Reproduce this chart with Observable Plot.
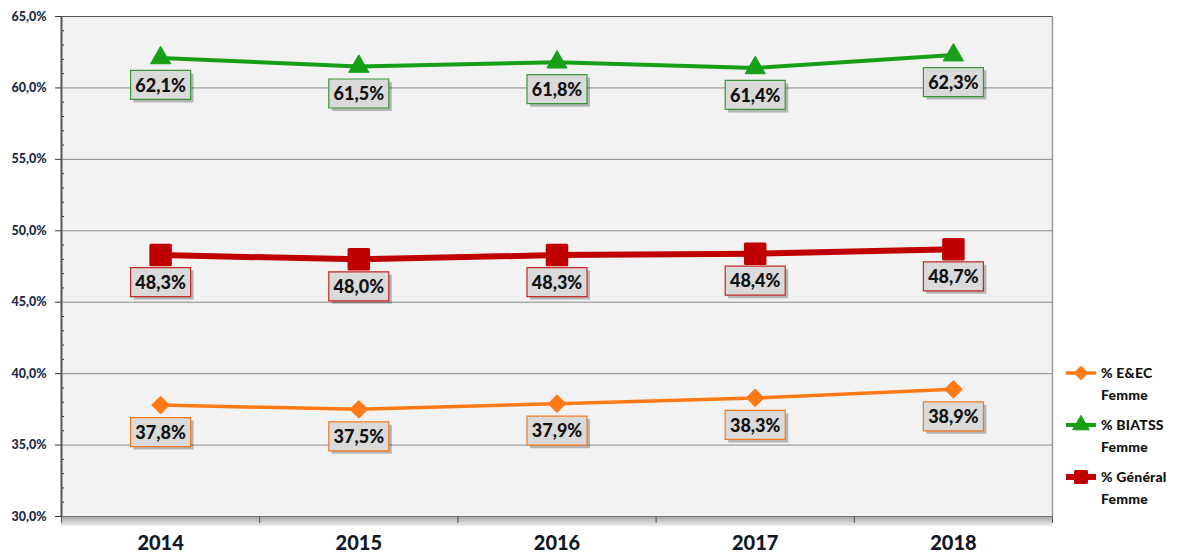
<!DOCTYPE html>
<html>
<head>
<meta charset="utf-8">
<script src="https://cdn.jsdelivr.net/npm/d3@7"></script>
<script src="https://cdn.jsdelivr.net/npm/@observablehq/plot@0.6"></script>
<style>
  html, body { margin: 0; padding: 0; background: #fff; }
  #wrap { position: relative; width: 1180px; height: 556px; font-family: Lato, "Open Sans", sans-serif; }
  #legend { position: absolute; left: 1064px; top: 362px; font-weight: 900; font-size: 14px; color: #111; letter-spacing: 0.2px; }
  .item { display: flex; align-items: flex-start; margin-bottom: 8px; }
  .item svg { flex: none; margin-right: 3px; }
  .item div { line-height: 22px; }
</style>
</head>
<body>
<div id="wrap"><div id="legend"></div></div>
<script>
const years = [2014, 2015, 2016, 2017, 2018];
const eec = [37.8, 37.5, 37.9, 38.3, 38.9];
const biatss = [62.1, 61.5, 61.8, 61.4, 62.3];
const general = [48.3, 48.0, 48.3, 48.4, 48.7];
const seriesNames = ["% E&EC Femme", "% BIATSS Femme", "% Général Femme"];
const yTicks = [30, 35, 40, 45, 50, 55, 60, 65];
const yMinor = d3.range(30, 66, 1).filter(d => d % 5 !== 0);
const xBounds = [2013.5, 2014.5, 2015.5, 2016.5, 2017.5, 2018.5];

const colors = { eec: "#ff7a14", biatss: "#17a017", general: "#c00000" };
const borders = { eec: "#f27a22", biatss: "#3c963c", general: "#c42828" };

const fmt = d => d.toFixed(1).replace(".", ",") + "%";

const rows = [];
years.forEach((y, i) => {
  rows.push({ year: y, value: eec[i], s: "eec" });
  rows.push({ year: y, value: biatss[i], s: "biatss" });
  rows.push({ year: y, value: general[i], s: "general" });
});
const sub = k => rows.filter(d => d.s === k);

const boxSymbol = { draw(ctx) { ctx.rect(-30, -14.5, 60, 29); } };

const seriesStyle = {
  eec: { symbol: "diamond2", r: 8, width: 3.5 },
  biatss: { symbol: "triangle", r: 7.5, width: 4 },
  general: { symbol: "square", r: 11, width: 6 }
};

const seriesMarks = [];
for (const k of ["eec", "general", "biatss"]) {
  const st = seriesStyle[k];
  seriesMarks.push(Plot.line(sub(k), { x: "year", y: "value", stroke: colors[k], strokeWidth: st.width }));
  seriesMarks.push(Plot.dot(sub(k), { x: "year", y: "value", symbol: st.symbol, r: st.r, fill: colors[k], stroke: colors[k], strokeWidth: k === "general" ? 3 : 1, strokeLinejoin: "round" }));
}
const labelMarks = [];
for (const k of ["eec", "general", "biatss"]) {
  labelMarks.push(Plot.dot(sub(k), { x: "year", y: "value", symbol: boxSymbol, dx: 3, dy: 30, fill: "#000", fillOpacity: 0.25, stroke: "none" }));
  labelMarks.push(Plot.dot(sub(k), { x: "year", y: "value", symbol: boxSymbol, dy: 27, fill: "#dadada", stroke: borders[k], strokeWidth: 1.2 }));
  labelMarks.push(Plot.text(sub(k), { x: "year", y: "value", text: d => fmt(d.value), dy: 28, fontSize: 18, fontWeight: 900, fill: "#111", fontFamily: "Lato" }));
}

const shadow = d3.range(1, 10).map(i => Plot.ruleY([30], { dy: i, stroke: "#000", strokeOpacity: 0.05 + 0.3 * (1 - i / 10) }));

const chart = Plot.plot({
  width: 1180,
  height: 556,
  marginLeft: 61,
  marginRight: 128,
  marginTop: 16,
  marginBottom: 40,
  style: { fontFamily: "Lato, sans-serif", background: "transparent" },
  x: { domain: [2013.5, 2018.5] },
  y: { domain: [30, 65] },
  marks: [
    Plot.frame({ fill: "#f2f2f2", stroke: "none" }),
    Plot.ruleY([35, 40, 45, 50, 55, 60], { stroke: "#8a8a8a" }),
    ...shadow,
    Plot.ruleY([65], { stroke: "#555" }),
    Plot.ruleX([2018.5], { stroke: "#9a9a9a", strokeWidth: 1.5 }),
    Plot.ruleY([30], { stroke: "#777" }),
    Plot.axisY({ ticks: yTicks, tickSize: 6, tickFormat: () => "", stroke: "#333", label: null }),
    Plot.axisY({ ticks: yMinor, tickSize: -3, tickFormat: () => "", stroke: "#333", label: null }),
    Plot.axisY({ ticks: yTicks, tickSize: 0, tickPadding: 15, tickFormat: fmt, fontSize: 12.5, fontWeight: 900, fill: "#1c2a48", label: null }),
    Plot.ruleX([2013.5], { stroke: "#555", strokeWidth: 2 }),
    Plot.axisX({ ticks: xBounds, tickSize: 7, tickFormat: () => "", stroke: "#555", label: null }),
    Plot.axisX({ ticks: years, tickSize: 0, tickPadding: 19, tickFormat: d => String(d), fontSize: 20, fontWeight: 900, fill: "#111827", label: null }),
    ...seriesMarks,
    ...labelMarks
  ]
});
document.getElementById("wrap").prepend(chart);

// legend
const legendKeys = ["eec", "biatss", "general"];
const legend = document.getElementById("legend");
legendKeys.forEach((k, i) => {
  const item = document.createElement("div");
  item.className = "item";
  const sw = d3.create("svg").attr("width", 34).attr("height", 22);
  const st = seriesStyle[k];
  sw.append("line").attr("x1", 2).attr("x2", 32).attr("y1", 11).attr("y2", 11)
    .attr("stroke", colors[k]).attr("stroke-width", st.width);
  const sym = { diamond2: d3.symbolDiamond2, triangle: d3.symbolTriangle, square: d3.symbolSquare }[st.symbol];
  const size = k === "general" ? 120 : 120;
  sw.append("path").attr("transform", "translate(17,11)").attr("d", d3.symbol(sym, size)())
    .attr("fill", colors[k]).attr("stroke", colors[k]).attr("stroke-linejoin", "round").attr("stroke-width", k === "general" ? 3 : 1);
  item.append(sw.node());
  const parts = seriesNames[i].split(" Femme");
  const t = document.createElement("div");
  t.innerHTML = parts[0] + "<br>Femme";
  item.append(t);
  legend.append(item);
});
</script>
</body>
</html>
